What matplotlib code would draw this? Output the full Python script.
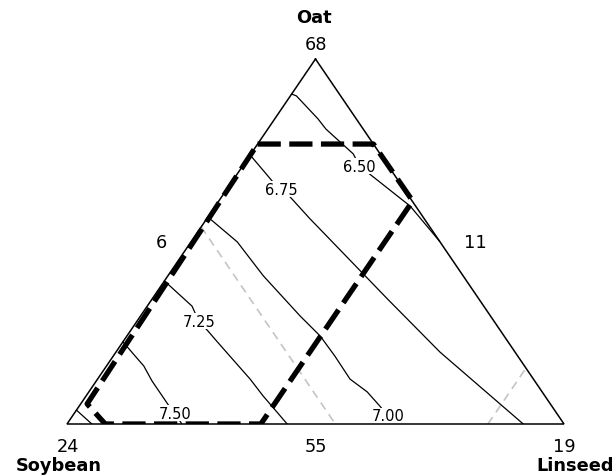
import matplotlib.pyplot as plt

# Mixture points are stored as (oat, linseed) fractions; soybean is the remainder.
vertex_names = ["Oat", "Soybean", "Linseed"]
vertex_values = [68, 24, 19]
edge_values = [6, 11, 55]  # Oat-Soybean, Oat-Linseed, Soybean-Linseed edges

contour_levels = [6.50, 6.75, 7.00, 7.25, 7.50, None]

contour_650 = [(0.904, 0.000), (0.899, 0.012), (0.836, 0.087), (0.808, 0.117),
               (0.740, 0.206), (0.706, 0.236), (0.688, 0.262), (0.597, 0.392),
               (0.501, 0.499)]
contour_675 = [(0.737, 0.000), (0.663, 0.083), (0.643, 0.109), (0.622, 0.138),
               (0.562, 0.208), (0.534, 0.242), (0.343, 0.473), (0.197, 0.652),
               (0.000, 0.918)]
contour_700 = [(0.567, 0.000), (0.499, 0.093), (0.406, 0.192), (0.296, 0.321),
               (0.241, 0.389), (0.186, 0.446), (0.123, 0.508), (0.088, 0.560),
               (0.049, 0.605), (0.022, 0.635), (0.000, 0.660)]
contour_725 = [(0.392, 0.000), (0.323, 0.090), (0.281, 0.125), (0.255, 0.156),
               (0.225, 0.190), (0.123, 0.307), (0.077, 0.356), (0.000, 0.443)]
contour_750 = [(0.225, 0.000), (0.173, 0.059), (0.159, 0.075), (0.118, 0.112),
               (0.077, 0.153), (0.049, 0.181), (0.030, 0.202), (0.000, 0.231)]
contour_corner = [(0.038, 0.000), (0.019, 0.025), (0.000, 0.050)]

contours = [contour_650, contour_675, contour_700, contour_725, contour_750,
            contour_corner]
label_points = [(0.706, 0.236), (0.643, 0.109), (0.022, 0.635), (0.281, 0.125),
                (0.030, 0.202), None]

# feasible blend region
region_oat = [0.767, 0.767, 0.611, 0.000, 0.000, 0.055]
region_lin = [0.000, 0.233, 0.390, 0.390, 0.077, 0.013]

# reference lines: constant soybean and constant linseed
soy_ref = 0.46
lin_ref = 0.847


def to_xy(oat, lin):
    return lin + 0.5 * oat, oat


fig = plt.figure(figsize=(6.16, 4.77), dpi=100)
ax = fig.add_axes([67 / 616, 52 / 477, 497 / 616, 365 / 477])
ax.set_xlim(0, 1)
ax.set_ylim(0, 1)
ax.axis("off")

# triangle outline
tri = [to_xy(1, 0), to_xy(0, 0), to_xy(0, 1), to_xy(1, 0)]
ax.plot([p[0] for p in tri], [p[1] for p in tri], color="black", lw=1.1,
        zorder=5, clip_on=False, solid_joinstyle="miter")

# grey reference lines
gx, gy = zip(to_xy(1 - soy_ref, 0), to_xy(0, 1 - soy_ref))
ax.plot(gx, gy, color="#c4c4c4", lw=1.2, ls=(0, (5, 3.5)), zorder=1)
gx, gy = zip(to_xy(0, lin_ref), to_xy(1 - lin_ref, lin_ref))
ax.plot(gx, gy, color="#c4c4c4", lw=1.2, ls=(0, (5, 3.5)), zorder=1)

# contour lines with inline labels
for level, pts, lp in zip(contour_levels, contours, label_points):
    xs, ys = zip(*[to_xy(o, l) for o, l in pts])
    ax.plot(xs, ys, color="black", lw=0.9, zorder=2)
    if level is not None:
        lx, ly = to_xy(*lp)
        ax.text(lx, ly, f"{level:.2f}", fontsize=10.5, ha="center",
                va="center", zorder=3,
                bbox=dict(facecolor="white", edgecolor="none", pad=0.3))

# feasible region outline
rx, ry = zip(*[to_xy(o, l) for o, l in zip(region_oat + region_oat[:1],
                                           region_lin + region_lin[:1])])
ax.plot(rx, ry, color="black", lw=3.8, ls=(0, (4.4, 1.6)), zorder=6,
        dash_capstyle="butt")

# vertex and edge labels
apex = to_xy(1, 0)
left = to_xy(0, 0)
right = to_xy(0, 1)
big = 12.8
ax.annotate(vertex_names[0], apex, xytext=(-2, 37), textcoords="offset pixels",
            ha="center", va="baseline", fontsize=big, fontweight="bold")
ax.annotate(str(vertex_values[0]), apex, xytext=(0, 10),
            textcoords="offset pixels", ha="center", va="baseline", fontsize=big)
ax.annotate(str(vertex_values[1]), left, xytext=(1, -27),
            textcoords="offset pixels", ha="center", va="baseline", fontsize=big)
ax.annotate(vertex_names[1], left, xytext=(-8, -46), textcoords="offset pixels",
            ha="center", va="baseline", fontsize=big, fontweight="bold")
ax.annotate(str(vertex_values[2]), right, xytext=(0, -27),
            textcoords="offset pixels", ha="center", va="baseline", fontsize=big)
ax.annotate(vertex_names[2], right, xytext=(11, -46), textcoords="offset pixels",
            ha="center", va="baseline", fontsize=big, fontweight="bold")

ax.annotate(str(edge_values[0]), to_xy(0.5, 0), xytext=(-30, -6),
            textcoords="offset pixels", ha="center", va="baseline", fontsize=big)
ax.annotate(str(edge_values[1]), to_xy(0.5, 0.5), xytext=(36, -6),
            textcoords="offset pixels", ha="center", va="baseline", fontsize=big)
ax.annotate(str(edge_values[2]), to_xy(0, 0.5), xytext=(0, -27),
            textcoords="offset pixels", ha="center", va="baseline", fontsize=big)

fig.savefig("out.png", dpi=100)
